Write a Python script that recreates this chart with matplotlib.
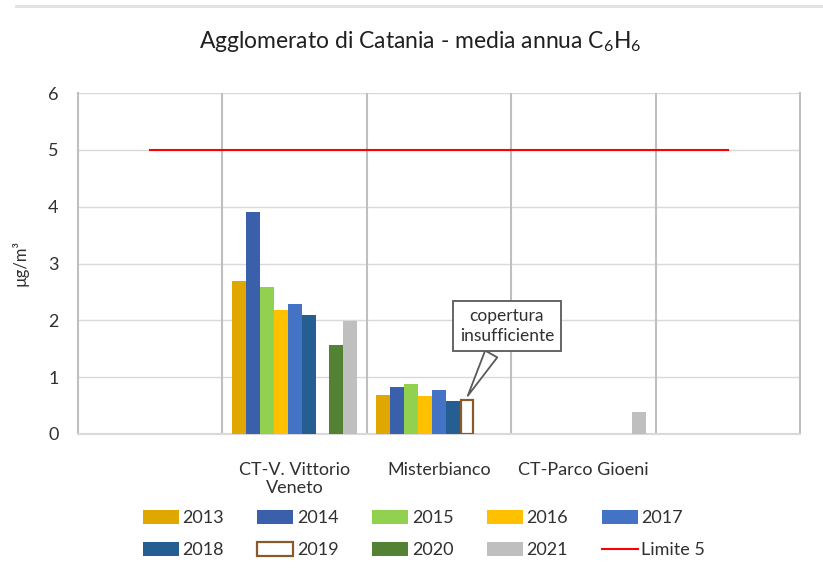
import matplotlib
matplotlib.use("Agg")
import matplotlib.pyplot as plt
import numpy as np
from matplotlib.lines import Line2D
from matplotlib.patches import Patch

plt.rcParams['font.family'] = ['Lato', 'DejaVu Sans']
plt.rcParams['mathtext.fontset'] = 'custom'
plt.rcParams['mathtext.rm'] = 'Lato'
plt.rcParams['mathtext.it'] = 'Lato'

categories = ["", "CT-V. Vittorio\nVeneto", "Misterbianco", "CT-Parco Gioeni", ""]
years = ["2013", "2014", "2015", "2016", "2017", "2018", "2019", "2020", "2021"]
nan = np.nan
values = {
    "2013": [nan, 2.70, 0.68, nan, nan],
    "2014": [nan, 3.90, 0.82, nan, nan],
    "2015": [nan, 2.58, 0.88, nan, nan],
    "2016": [nan, 2.19, 0.67, nan, nan],
    "2017": [nan, 2.29, 0.78, nan, nan],
    "2018": [nan, 2.09, 0.58, nan, nan],
    "2019": [nan, nan, 0.60, nan, nan],
    "2020": [nan, 1.56, nan, nan, nan],
    "2021": [nan, 1.99, nan, 0.39, nan],
}
limit = [5, 5, 5, 5, 5]
limit_label = "Limite 5"
colors = {
    "2013": "#DFA700", "2014": "#3A60AC", "2015": "#92D050", "2016": "#FFC000",
    "2017": "#4472C4", "2018": "#255E91", "2019": "#FFFFFF", "2020": "#548235",
    "2021": "#BFBFBF",
}
edge_2019 = "#8B5A2B"
txt = "#303030"

fig = plt.figure(figsize=(8.23, 5.72), dpi=100)
ax = fig.add_axes([78/823, 1-434/572, (800-78)/823, (434-93)/572])

x = np.arange(len(categories))
w = 0.0966
n = len(years)
for i, yr in enumerate(years):
    off = (i - (n-1)/2) * w
    if yr == "2019":
        ax.bar(x + off, values[yr], w*0.9, color="white", edgecolor=edge_2019, linewidth=1.6, zorder=3)
    else:
        ax.bar(x + off, values[yr], w, color=colors[yr], zorder=3)

ax.plot(x, limit, color="#FF0000", lw=1.5, zorder=4)

ax.set_xlim(-0.5, 4.5)
ax.set_ylim(0, 6)
ax.set_yticks(range(0, 7))
ax.set_xticks(x)
ax.set_xticklabels(categories, fontsize=13, color=txt)
ax.tick_params(axis='x', length=0, pad=20)
ax.tick_params(axis='y', length=0, pad=14, labelsize=13, labelcolor=txt)
for yv in range(1, 7):
    ax.axhline(yv, color="#D9D9D9", lw=1, zorder=1)
for xv in [0.5, 1.5, 2.5, 3.5]:
    ax.axvline(xv, color="#BFBFBF", lw=1.5, zorder=1)
ax.spines['top'].set_visible(False)
for s in ['left', 'right', 'bottom']:
    ax.spines[s].set_color("#BFBFBF")
    ax.spines[s].set_linewidth(1.5)
ax.spines['bottom'].set_color("#D9D9D9")

ax.set_ylabel("µg/m³", fontsize=12, color=txt, labelpad=14)

fig.text(0.51, 1-42/572, r"Agglomerato di Catania - media annua $\mathrm{C_6H_6}$",
         ha='center', va='center', fontsize=16.5, color="#202020")

ax.annotate("copertura\ninsufficiente", xy=(2.19, 0.63), xytext=(2.47, 1.9),
            ha='center', va='center', fontsize=12.5, color=txt, zorder=6,
            linespacing=1.3,
            bbox=dict(boxstyle='square,pad=0.4', fc='white', ec='#595959', lw=1.3),
            arrowprops=dict(arrowstyle='wedge,tail_width=0.8,shrink_factor=0.5',
                            fc='white', ec='#595959', lw=1.3))

fig.add_artist(Line2D([0.02, 1.0], [1-6/572, 1-6/572], color="#E0E0E0", lw=2, transform=fig.transFigure))

handles = []
for yr in years:
    if yr == "2019":
        handles.append(Patch(facecolor='white', edgecolor=edge_2019, lw=1.6, label=yr))
    else:
        handles.append(Patch(facecolor=colors[yr], label=yr))
handles.append(Line2D([0], [0], color="#FF0000", lw=1.5, label=limit_label))
ncol = 5
order = [r * ncol + c for c in range(ncol) for r in range(2)]
handles = [handles[k] for k in order]
fig.legend(handles=handles, ncol=ncol, loc='center', bbox_to_anchor=(0.515, 1-534/572),
           frameon=False, fontsize=13, handlelength=2.0, handleheight=0.8,
           columnspacing=1.85, handletextpad=0.2, labelspacing=0.9,
           labelcolor=txt)

fig.savefig("out.png", dpi=100)
